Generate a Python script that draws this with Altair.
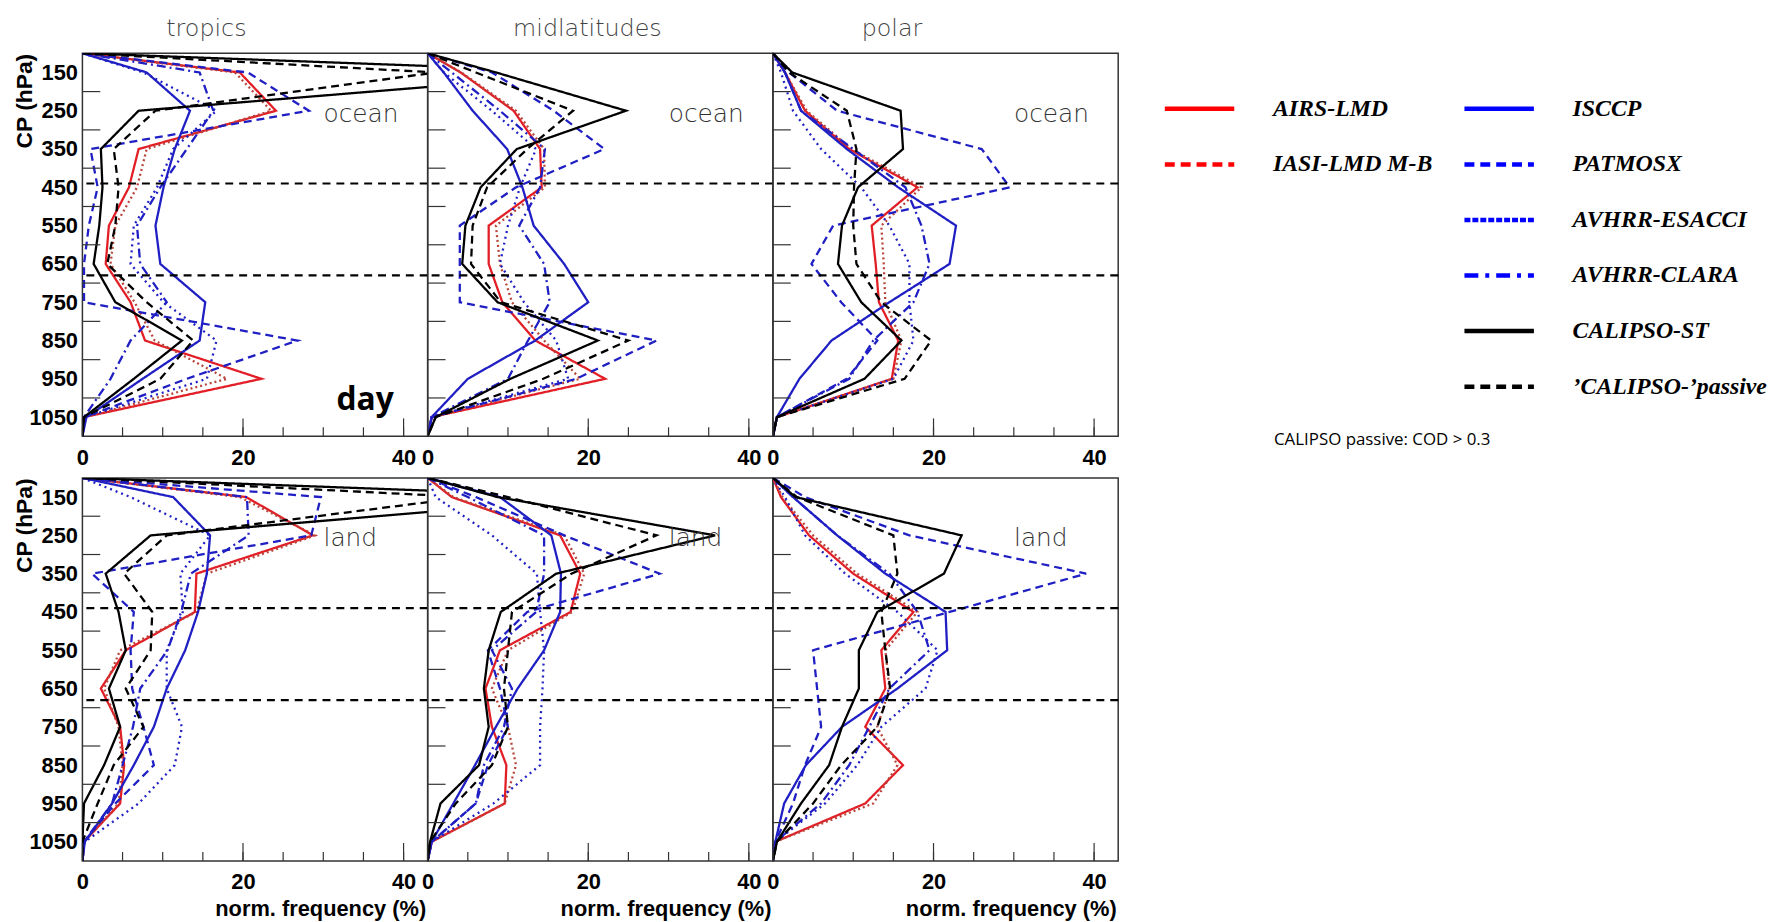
import altair as alt
import pandas as pd

# ---------------- data ----------------
LEVELS = [150, 250, 350, 450, 550, 650, 750, 850, 950, 1050]
TOP_CP = 100
BOTTOM_CP = 1100
BOUNDARIES = [440, 680]
X_TICKS = [0, 5, 10, 15, 20, 25, 30, 35, 40]
X_MAJOR = [0, 20, 40]

SERIES = ["AIRS-LMD", "IASI-LMD M-B", "ISCCP", "PATMOSX", "AVHRR-ESACCI",
          "AVHRR-CLARA", "CALIPSO-ST", "\u2019CALIPSO-\u2019passive"]
COLORS = ["#e21f26", "#b8443a", "#1f1fc4", "#1f1fc4", "#1f1fc4", "#1f1fc4", "#000000", "#000000"]
DASHES = [[1, 0], [2, 3], [1, 0], [8, 5], [2, 4], [9, 4, 2, 4], [1, 0], [8, 5]]
LEGEND_COLORS = ["#ff0000", "#ff0000", "#0000ff", "#0000ff", "#0000ff", "#0000ff", "#000000", "#000000"]
LEGEND_DASHES = [[1, 0], [10, 6], [1, 0], [10, 6], [6, 2], [14, 7, 4, 7], [1, 0], [10, 6]]

COLUMNS = ["tropics", "midlatitudes", "polar"]
SURFACES = ["ocean", "land"]
NOTE = "CALIPSO passive: COD > 0.3"

TROPICS_OCEAN = {
    "AIRS-LMD":      [19.6, 24.1, 7.0, 5.8, 3.3, 2.9, 6.0, 7.8, 22.3, 0.2],
    "IASI-LMD M-B":  [19.0, 23.5, 8.0, 6.8, 4.1, 3.5, 6.5, 9.0, 18.0, 0.3],
    "ISCCP":         [8.0, 13.4, 11.5, 10.1, 9.1, 9.7, 15.3, 14.6, 7.5, 0.5],
    "PATMOSX":       [20.6, 28.2, 1.0, 1.9, 0.8, 0.2, 0.2, 26.8, 13.0, 0.3],
    "AVHRR-ESACCI":  [7.6, 16.7, 11.3, 9.3, 6.4, 6.0, 10.1, 16.7, 15.5, 0.3],
    "AVHRR-CLARA":   [14.6, 16.3, 13.0, 9.7, 6.8, 7.2, 10.5, 6.0, 3.5, 0.2],
    "CALIPSO-ST":    [65.0, 7.0, 2.3, 2.5, 2.1, 1.4, 4.1, 12.4, 6.4, 0.2],
    "\u2019CALIPSO-\u2019passive": [44.0, 9.1, 3.9, 4.5, 4.1, 3.1, 8.0, 13.8, 9.7, 0.2],
}
MID_OCEAN = {
    "AIRS-LMD":      [4.1, 10.7, 14.0, 14.2, 7.6, 7.6, 9.3, 13.4, 22.1, 0.5],
    "IASI-LMD M-B":  [4.2, 11.0, 14.5, 14.6, 8.5, 9.0, 10.5, 14.5, 19.0, 0.5],
    "ISCCP":         [2.0, 5.6, 9.9, 11.8, 13.2, 17.0, 20.0, 13.4, 5.0, 0.5],
    "PATMOSX":       [8.0, 15.7, 22.0, 11.0, 4.0, 4.0, 4.0, 28.5, 18.5, 0.5],
    "AVHRR-ESACCI":  [2.0, 8.0, 13.5, 11.5, 10.0, 9.0, 12.0, 16.0, 17.5, 0.5],
    "AVHRR-CLARA":   [3.0, 9.0, 14.6, 14.0, 11.4, 14.5, 15.2, 12.5, 10.0, 0.5],
    "CALIPSO-ST":    [8.5, 24.7, 11.1, 6.6, 4.7, 4.3, 8.7, 21.2, 10.3, 1.0],
    "\u2019CALIPSO-\u2019passive": [6.0, 18.1, 12.4, 7.4, 5.6, 5.4, 9.1, 25.0, 14.4, 1.0],
}
POLAR_OCEAN = {
    "AIRS-LMD":      [1.5, 4.0, 9.5, 18.0, 12.3, 12.8, 13.2, 15.6, 14.8, 0.5],
    "IASI-LMD M-B":  [1.5, 4.2, 9.8, 18.5, 13.5, 13.8, 14.0, 16.0, 15.0, 0.5],
    "ISCCP":         [1.5, 3.5, 9.2, 15.6, 22.8, 22.0, 14.5, 7.3, 3.3, 0.5],
    "PATMOSX":       [2.0, 8.0, 26.0, 29.5, 7.5, 4.8, 8.5, 13.0, 9.2, 0.5],
    "AVHRR-ESACCI":  [1.0, 2.5, 6.0, 11.0, 14.5, 17.0, 17.0, 17.5, 15.0, 0.5],
    "AVHRR-CLARA":   [1.5, 3.5, 10.0, 16.5, 18.5, 19.5, 17.5, 12.5, 9.5, 0.5],
    "CALIPSO-ST":    [2.4, 15.9, 16.2, 10.6, 8.6, 8.1, 11.0, 16.0, 11.4, 0.5],
    "\u2019CALIPSO-\u2019passive": [2.0, 9.2, 10.4, 10.1, 10.0, 10.4, 13.5, 19.7, 16.4, 0.5],
}
TROPICS_LAND = {
    "AIRS-LMD":      [20.4, 28.7, 14.2, 14.0, 5.4, 2.3, 4.7, 5.2, 4.7, 0.2],
    "IASI-LMD M-B":  [19.6, 29.0, 15.5, 14.2, 4.7, 2.7, 4.5, 5.0, 4.5, 0.2],
    "ISCCP":         [11.3, 15.9, 15.5, 14.4, 12.8, 10.5, 8.9, 6.4, 3.7, 0.3],
    "PATMOSX":       [29.7, 28.5, 1.2, 6.4, 6.0, 6.2, 7.6, 8.9, 4.1, 0.2],
    "AVHRR-ESACCI":  [6.0, 15.9, 12.2, 12.5, 10.5, 10.5, 12.4, 11.5, 7.0, 0.3],
    "AVHRR-CLARA":   [20.5, 20.7, 13.5, 12.3, 10.6, 7.2, 6.3, 5.0, 3.7, 0.2],
    "CALIPSO-ST":    [65.0, 8.5, 2.9, 4.5, 5.4, 3.3, 4.7, 2.7, 0.2, 0.0],
    "\u2019CALIPSO-\u2019passive": [48.0, 10.5, 5.2, 8.7, 8.5, 5.4, 7.6, 3.9, 1.9, 0.0],
}
MID_LAND = {
    "AIRS-LMD":      [3.0, 16.5, 19.0, 17.8, 9.0, 7.2, 8.0, 9.8, 9.6, 0.5],
    "IASI-LMD M-B":  [3.2, 17.0, 19.5, 18.0, 10.0, 8.0, 10.0, 11.0, 9.6, 0.5],
    "ISCCP":         [9.0, 15.4, 16.6, 16.5, 14.5, 11.2, 8.5, 5.9, 3.2, 0.5],
    "PATMOSX":       [6.0, 17.0, 28.9, 12.4, 7.5, 9.0, 10.0, 7.5, 6.0, 0.5],
    "AVHRR-ESACCI":  [1.0, 8.0, 13.6, 14.0, 14.5, 14.3, 14.0, 14.0, 8.2, 0.5],
    "AVHRR-CLARA":   [5.0, 14.5, 14.5, 13.5, 8.0, 10.5, 9.5, 7.0, 6.0, 0.5],
    "CALIPSO-ST":    [8.7, 35.8, 16.0, 9.1, 7.6, 7.0, 7.6, 6.4, 1.6, 0.3],
    "\u2019CALIPSO-\u2019passive": [10.0, 28.5, 17.9, 10.5, 10.0, 9.5, 10.0, 8.0, 3.5, 0.3],
}
POLAR_LAND = {
    "AIRS-LMD":      [1.0, 4.5, 10.0, 17.5, 13.5, 14.0, 11.5, 16.2, 11.5, 0.3],
    "IASI-LMD M-B":  [1.2, 5.0, 10.5, 18.0, 14.0, 14.5, 13.0, 15.5, 12.5, 0.3],
    "ISCCP":         [2.5, 8.0, 14.0, 21.5, 21.7, 15.5, 8.6, 4.1, 1.4, 0.3],
    "PATMOSX":       [4.0, 17.0, 39.0, 22.0, 5.0, 5.5, 6.0, 4.0, 2.5, 0.3],
    "AVHRR-ESACCI":  [1.5, 4.0, 9.0, 15.5, 20.5, 19.0, 13.5, 10.5, 6.5, 0.3],
    "AVHRR-CLARA":   [2.5, 8.0, 14.5, 18.0, 19.5, 14.5, 12.0, 9.5, 6.0, 0.3],
    "CALIPSO-ST":    [2.8, 23.5, 21.3, 13.0, 10.7, 10.7, 8.6, 7.0, 3.5, 0.5],
    "\u2019CALIPSO-\u2019passive": [3.0, 15.0, 15.5, 13.5, 14.0, 14.6, 13.0, 8.5, 5.0, 0.5],
}

# ---------------- layout / style ----------------
W, H = 348, 386
AXIS_FONT = "Liberation Sans"
LIGHT_FONT = "DejaVu Sans"
TITLE_X = [125, 161, 120]

XS = alt.Scale(domain=[0, 43], nice=False, zero=False)
YS = alt.Scale(domain=[100, 1100], reverse=True, nice=False, zero=False)
Y_TICKS = [(a + b) / 2 for a, b in zip(LEVELS, LEVELS[1:])]


def panel(values, col, row):
    recs = []
    for name in SERIES:
        cps = [TOP_CP] + LEVELS + [BOTTOM_CP]
        vals = [0.0] + values[name] + [0.0]
        recs += [{"series": name, "cp": c, "freq": v} for c, v in zip(cps, vals)]
    df = pd.DataFrame(recs)

    xaxis = alt.Axis(values=X_MAJOR, format="d", ticks=False, domain=False, grid=False,
                     labelFont=AXIS_FONT, labelFontSize=22, labelFontWeight="bold",
                     labelColor="black", labelPadding=11, labelFlush=False, labelOverlap=False,
                     title="norm. frequency (%)" if row == 1 else None,
                     titleFont=AXIS_FONT, titleFontSize=22, titleFontWeight="bold",
                     titleColor="black", titleX=W - 2, titleY=48, titleAlign="right",
                     titleBaseline="middle")
    if col == 0:
        yaxis = alt.Axis(values=LEVELS, format="d", ticks=False, domain=False, grid=False,
                         labelFont=AXIS_FONT, labelFontSize=22, labelFontWeight="bold",
                         labelColor="black", labelPadding=5, labelOverlap=False,
                         title="CP (hPa)", titleFont=AXIS_FONT, titleFontSize=23,
                         titleFontWeight="bold", titleColor="black", titleAngle=-90,
                         titleX=-58, titleY=0, titleAlign="right", titleBaseline="middle")
    else:
        yaxis = None

    X = alt.X("freq:Q", scale=XS, axis=xaxis)
    Y = alt.Y("cp:Q", scale=YS, axis=yaxis)

    lines = alt.Chart(df).mark_line(clip=True, strokeWidth=2.3).encode(
        x=X, y=Y,
        color=alt.Color("series:N", scale=alt.Scale(domain=SERIES, range=COLORS), legend=None),
        strokeDash=alt.StrokeDash("series:N", scale=alt.Scale(domain=SERIES, range=DASHES), legend=None),
        order=alt.Order("cp:Q"),
    )
    bounds = alt.Chart(pd.DataFrame({"cp": BOUNDARIES})).mark_rule(
        color="black", strokeWidth=2.2, strokeDash=[8, 6]).encode(y=Y)
    yticks = alt.Chart(pd.DataFrame({"cp": Y_TICKS})).mark_rule(
        color="#333", strokeWidth=1.2).encode(y=Y, x=alt.value(0), x2=alt.value(18))
    xminor = alt.Chart(pd.DataFrame({"freq": X_TICKS})).mark_rule(
        color="#333", strokeWidth=1.2).encode(x=X, y=alt.value(H), y2=alt.value(H - 9))
    xmajor = alt.Chart(pd.DataFrame({"freq": X_MAJOR})).mark_rule(
        color="#333", strokeWidth=1.2).encode(x=X, y=alt.value(H), y2=alt.value(H - 18))
    surf = alt.Chart(pd.DataFrame({"t": [SURFACES[row]]})).mark_text(
        align="left", baseline="middle", font=LIGHT_FONT, fontWeight=200, fontSize=25,
        color="#333").encode(x=alt.value(243), y=alt.value(61), text="t:N")
    layers = [lines, bounds, yticks, xminor, xmajor, surf]
    if row == 0:
        ttl = alt.Chart(pd.DataFrame({"t": [COLUMNS[col]]})).mark_text(
            align="center", baseline="middle", font=LIGHT_FONT, fontWeight=200, fontSize=24,
            color="#444").encode(x=alt.value(TITLE_X[col]), y=alt.value(-24), text="t:N")
        layers.append(ttl)
    if row == 0 and col == 0:
        day = alt.Chart(pd.DataFrame({"t": ["day"]})).mark_text(
            align="left", baseline="middle", font="Open Sans", fontWeight="bold", fontSize=32,
            color="black").encode(x=alt.value(256), y=alt.value(350), text="t:N")
        layers.append(day)
    return alt.layer(*layers).properties(width=W, height=H)


# ---------------- legend ----------------
leg = []
for i, name in enumerate(SERIES):
    leg.append({"entry": name, "col": 0 if i < 2 else 1, "row": i if i < 2 else i - 2})
leg_df = pd.DataFrame(leg)
LX = alt.Scale(domain=[0, 1], range=[82, 384])
LY = alt.Scale(domain=[0, 5], range=[56, 336])
sym = alt.Chart(leg_df).mark_point(shape="stroke", size=4900, strokeWidth=4.5, opacity=1).encode(
    x=alt.X("col:Q", scale=LX, axis=None),
    y=alt.Y("row:Q", scale=LY, axis=None),
    color=alt.Color("entry:N", scale=alt.Scale(domain=SERIES, range=LEGEND_COLORS), legend=None),
    strokeDash=alt.StrokeDash("entry:N", scale=alt.Scale(domain=SERIES, range=LEGEND_DASHES), legend=None),
)
txt = alt.Chart(leg_df).mark_text(
    align="left", baseline="middle", dx=74, font="Liberation Serif", fontStyle="italic",
    fontWeight="bold", fontSize=24, color="black").encode(
    x=alt.X("col:Q", scale=LX, axis=None), y=alt.Y("row:Q", scale=LY, axis=None), text="entry:N")
note = alt.Chart(pd.DataFrame({"t": [NOTE]})).mark_text(
    align="left", baseline="middle", font="Open Sans", fontSize=17, color="black").encode(
    x=alt.value(157), y=alt.value(390), text="t:N")
legend = alt.layer(sym, txt, note).properties(
    width=620, height=H, view=alt.ViewBackground(stroke="transparent"))

# ---------------- assemble ----------------
cells = [panel(TROPICS_OCEAN, 0, 0), panel(MID_OCEAN, 1, 0), panel(POLAR_OCEAN, 2, 0), legend,
         panel(TROPICS_LAND, 0, 1), panel(MID_LAND, 1, 1), panel(POLAR_LAND, 2, 1)]
chart = alt.concat(*cells, columns=4, spacing=alt.RowColnumber(row=42, column=0),
                   bounds="flush").resolve_scale(
    color="independent", strokeDash="independent"
).configure_view(stroke="#333", strokeWidth=1.5).properties(background="white")

chart.save("out.html", embed_options={"renderer": "svg", "actions": False})
